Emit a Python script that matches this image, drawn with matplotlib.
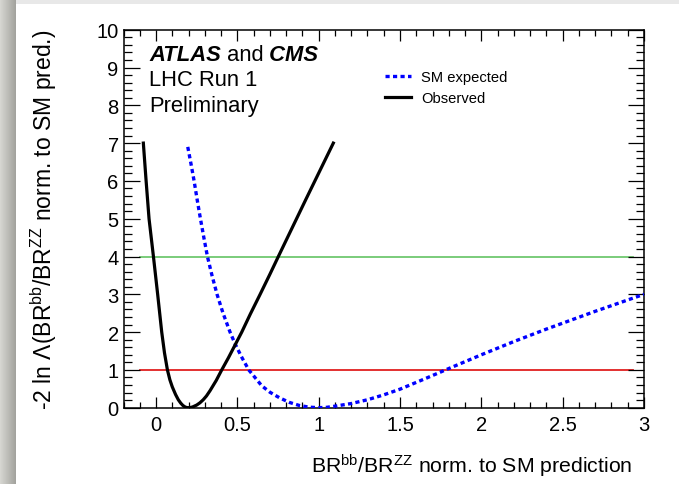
import numpy as np
import matplotlib
matplotlib.use('Agg')
import matplotlib.pyplot as plt
from matplotlib.ticker import MultipleLocator, FixedLocator, FixedFormatter

plt.rcParams['font.family'] = ['Liberation Sans', 'DejaVu Sans']
plt.rcParams['mathtext.fontset'] = 'custom'
plt.rcParams['mathtext.rm'] = 'Liberation Sans'
plt.rcParams['mathtext.it'] = 'Liberation Sans:italic'
plt.rcParams['mathtext.bf'] = 'Liberation Sans:bold'

# ---- data ----
obs_x = [-0.078, -0.061, -0.043, -0.016, 0.010, 0.035, 0.052, 0.070, 0.085, 0.100,
         0.120, 0.137, 0.152, 0.165, 0.180, 0.195, 0.210, 0.225, 0.250, 0.270,
         0.290, 0.310, 0.332, 0.370, 0.404, 0.445, 0.486, 0.527, 0.580, 0.640,
         0.700, 0.752, 0.920, 1.090]
obs_y = [7.0, 6.0, 5.0, 4.0, 3.0, 2.0, 1.45, 1.0, 0.74, 0.55,
         0.35, 0.21, 0.12, 0.06, 0.015, 0.0, 0.005, 0.02, 0.07, 0.13,
         0.21, 0.31, 0.45, 0.72, 1.0, 1.32, 1.66, 2.0, 2.48, 3.0,
         3.53, 4.0, 5.5, 7.0]

exp_x = [0.195, 0.215, 0.234, 0.253, 0.273, 0.294, 0.316, 0.344, 0.375, 0.412,
         0.455, 0.486, 0.525, 0.570, 0.650, 0.700, 0.760, 0.820, 0.880, 0.940,
         1.000, 1.050, 1.100, 1.200, 1.300, 1.400, 1.500, 1.650, 1.780, 2.000,
         2.200, 2.400, 2.700, 3.000]
exp_y = [6.9, 6.45, 6.0, 5.5, 5.0, 4.5, 4.0, 3.5, 3.0, 2.5,
         2.0, 1.69, 1.35, 1.0, 0.58, 0.41, 0.26, 0.14, 0.06, 0.015,
         0.0, 0.01, 0.04, 0.11, 0.21, 0.34, 0.49, 0.76, 1.0, 1.40,
         1.75, 2.08, 2.55, 3.0]

xticks = [0, 0.5, 1, 1.5, 2, 2.5, 3]
xticklabels = ['0', '0.5', '1', '1.5', '2', '2.5', '3']
yticks = [0, 1, 2, 3, 4, 5, 6, 7, 8, 9, 10]
yticklabels = ['0', '1', '2', '3', '4', '5', '6', '7', '8', '9', '10']
ref_levels = [1, 4]
ref_colors = ['#e02020', '#70c870']

W, H = 679, 485
fig = plt.figure(figsize=(W / 100, H / 100), dpi=100)
fig.patch.set_facecolor('white')

# background decoration (slide border)
bg = fig.add_axes([0, 0, 1, 1], zorder=-10)
img = np.ones((H, W, 3))
img[:5, :, :] = 0.91
grad = np.linspace(0.84, 0.64, 16)
img[:, :16, :] = grad[None, :, None]
img[:, :16, 2] -= 0.02
bg.imshow(img, extent=(0, W, H, 0), aspect='auto', interpolation='nearest')
bg.set_xlim(0, W)
bg.set_ylim(H, 0)
bg.axis('off')

# main axes
x_left, x_right, y_top, y_bot = 123.5, 644.0, 30.7, 408.7
ax = fig.add_axes([x_left / W, (H - y_bot) / H, (x_right - x_left) / W, (y_bot - y_top) / H])
ax.set_facecolor('none')

for lev, c in zip(ref_levels, ref_colors):
    ax.axhline(lev, xmin=0.031, xmax=0.978, color=c, lw=1.3, zorder=1)

ax.plot(exp_x, exp_y, color='#0000ff', lw=2.4, ls=(0, (1.25, 1.0)),
        dash_capstyle='butt', label='SM expected', zorder=3)
ax.plot(obs_x, obs_y, color='black', lw=2.3, label='Observed', zorder=4,
        solid_joinstyle='round')

ax.set_xlim(-0.2, 3)
ax.set_ylim(0, 10)
ax.xaxis.set_major_locator(FixedLocator(xticks))
ax.xaxis.set_major_formatter(FixedFormatter(xticklabels))
ax.xaxis.set_minor_locator(MultipleLocator(0.1))
ax.yaxis.set_major_locator(FixedLocator(yticks))
ax.yaxis.set_major_formatter(FixedFormatter(yticklabels))
ax.yaxis.set_minor_locator(MultipleLocator(0.2))
ax.tick_params(which='both', direction='in', top=True, right=True, width=0.9,
               labelsize=14.5, color='black')
ax.tick_params(axis='y', which='major', length=11.5, pad=3.5)
ax.tick_params(axis='y', which='minor', length=5.8)
ax.tick_params(axis='x', which='major', length=8, pad=5)
ax.tick_params(axis='x', which='minor', length=4.3)
for s in ax.spines.values():
    s.set_linewidth(1.1)

# legend
leg = ax.legend(loc='upper left', bbox_to_anchor=(385 / W, 1 - 71 / H),
                bbox_transform=fig.transFigure, frameon=False, fontsize=10.6,
                handlelength=1.75, handletextpad=0.7, labelspacing=0.5,
                borderpad=0, borderaxespad=0)

# labels
t1 = fig.text(149 / W, 1 - 61 / H, 'ATLAS', fontsize=15.8, fontweight='bold',
              fontstyle='italic', va='baseline', ha='left')
a2 = ax.annotate(' and', xy=(1, 0), xycoords=t1, fontsize=15.8, va='bottom', ha='left')
a3 = ax.annotate(' CMS', xy=(1, 0), xycoords=a2, fontsize=15.8, fontweight='bold',
                 fontstyle='italic', va='bottom', ha='left')
fig.text(149 / W, 1 - 86.5 / H, 'LHC Run 1', fontsize=15.8, va='baseline', ha='left')
fig.text(149 / W, 1 - 112 / H, 'Preliminary', fontsize=15.8, va='baseline', ha='left')

fig.text(632 / W, 1 - 474 / H,
         r'BR$^{\mathrm{bb}}$/BR$^{\mathrm{ZZ}}$ norm. to SM prediction',
         fontsize=15.3, ha='right', va='baseline')
fig.text(44 / W, 1 - 30 / H,
         r'-2 ln Λ(BR$^{\mathrm{bb}}$/BR$^{\mathrm{ZZ}}$ norm. to SM pred.)',
         fontsize=16.5, ha='center', va='top', rotation=90)

fig.savefig('out.png', dpi=100)
